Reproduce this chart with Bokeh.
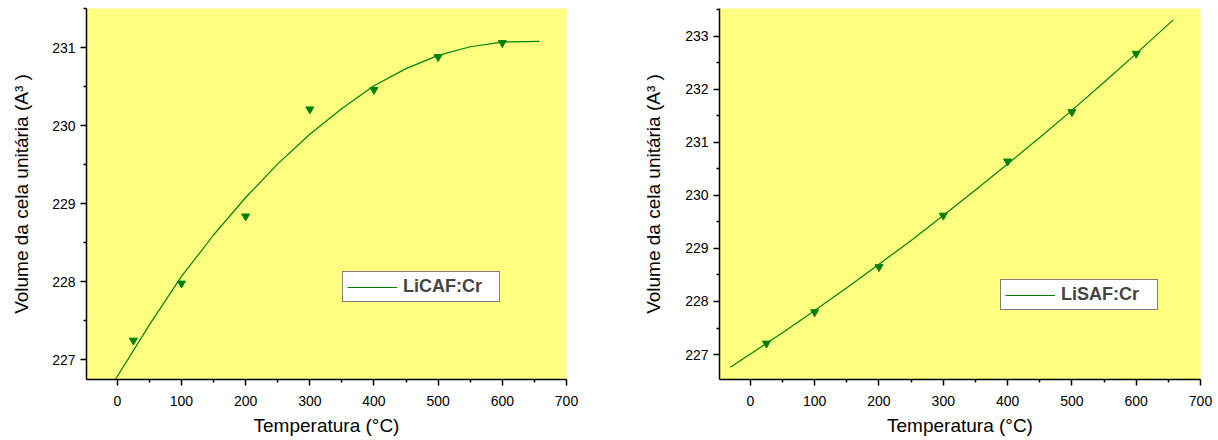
from bokeh.plotting import figure
from bokeh.layouts import row
from bokeh.models import Range1d, FixedTicker, Legend, LegendItem
from bokeh.embed import file_html
from bokeh.resources import INLINE

# ---- data ----
temperature = [25, 100, 200, 300, 400, 500, 600]
licaf_volume = [227.25, 227.98, 228.84, 230.21, 230.46, 230.88, 231.06]
lisaf_volume = [227.21, 227.80, 228.65, 229.62, 230.64, 231.57, 232.67]

licaf_fit_t = [-3, 50, 100, 150, 200, 250, 300, 350, 400, 450, 500, 550, 600, 658]
licaf_fit_v = [226.75, 227.45, 228.07, 228.60, 229.08, 229.51, 229.89, 230.22,
               230.51, 230.73, 230.90, 231.01, 231.07, 231.08]

lisaf_fit_t = [-31, 0, 50, 100, 150, 200, 250, 300, 350, 400, 450, 500, 550, 600, 658]
lisaf_fit_v = [226.76, 227.01, 227.41, 227.83, 228.26, 228.70, 229.15, 229.62,
               230.10, 230.59, 231.09, 231.60, 232.13, 232.67, 233.31]

x_ticks = [0, 100, 200, 300, 400, 500, 600, 700]
x_minor = [-50, 50, 150, 250, 350, 450, 550, 650]
licaf_y_ticks = [227, 228, 229, 230, 231]
licaf_y_minor = [226.5, 227.5, 228.5, 229.5, 230.5, 231.5]
lisaf_y_ticks = [227, 228, 229, 230, 231, 232, 233]
lisaf_y_minor = [226.5, 227.5, 228.5, 229.5, 230.5, 231.5, 232.5, 233.5]

x_label = "Temperatura (°C)"
y_label = "Volume da cela unitária (A³ )"

GREEN = "#008000"
YELLOW = "#FFFF80"
FONT = "Liberation Sans"


def make_panel(width, border_left, border_right, y_range, y_ticks, y_minor,
               fit_t, fit_v, pts_v, name, legend_loc, ylab_standoff):
    p = figure(width=width, height=440, output_backend="svg", toolbar_location=None,
               x_range=Range1d(-48, 700), y_range=y_range,
               min_border_left=border_left, min_border_right=border_right,
               min_border_top=8, min_border_bottom=61)
    p.background_fill_color = YELLOW
    p.border_fill_color = "white"
    p.outline_line_color = None
    p.grid.visible = False

    line_r = p.line(fit_t, fit_v, line_color=GREEN, line_width=1.2)
    p.scatter(temperature, pts_v, marker="inverted_triangle", size=8,
              fill_color=GREEN, line_color=GREEN)

    p.xaxis.ticker = FixedTicker(ticks=x_ticks, minor_ticks=x_minor)
    p.yaxis.ticker = FixedTicker(ticks=y_ticks, minor_ticks=y_minor)
    for ax in (p.xaxis[0], p.yaxis[0]):
        ax.axis_line_width = 1.5
        ax.axis_line_color = "black"
        ax.major_tick_line_width = 1.5
        ax.minor_tick_line_width = 1.5
        ax.major_tick_in = 0
        ax.minor_tick_in = 0
        ax.major_tick_out = 6
        ax.minor_tick_out = 3
        ax.major_label_text_font = FONT
        ax.major_label_text_font_size = "14px"
        ax.major_label_text_color = "black"
        ax.axis_label_text_font = FONT
        ax.axis_label_text_font_size = "19px"
        ax.axis_label_text_font_style = "normal"
        ax.axis_label_text_color = "black"
    p.xaxis.major_label_standoff = 10
    p.xaxis.axis_label_standoff = 6
    p.yaxis.major_label_standoff = 5
    p.yaxis.axis_label_standoff = ylab_standoff
    p.xaxis.axis_label = x_label
    p.yaxis.axis_label = y_label

    legend = Legend(items=[LegendItem(label=name, renderers=[line_r])],
                    location=legend_loc)
    legend.label_text_font = FONT
    legend.label_text_font_style = "bold"
    legend.label_text_font_size = "18px"
    legend.label_standoff = 6
    legend.glyph_width = 50
    legend.glyph_height = 16
    legend.label_height = 16
    legend.padding = 4
    legend.margin = 0
    legend.label_width = 92
    legend.border_line_color = "black"
    legend.border_line_width = 1.2
    legend.background_fill_color = "white"
    legend.background_fill_alpha = 1.0
    p.add_layout(legend)
    return p


p1 = make_panel(628, 86, 62, Range1d(226.75, 231.5), licaf_y_ticks, licaf_y_minor,
                licaf_fit_t, licaf_fit_v, licaf_volume, "LiCAF:Cr", (256, 77), 17)
p2 = make_panel(590, 91, 18, Range1d(226.53, 233.52), lisaf_y_ticks, lisaf_y_minor,
                lisaf_fit_t, lisaf_fit_v, lisaf_volume, "LiSAF:Cr", (281, 69), 18)

layout = row(p1, p2)
open("out.html", "w").write(file_html(layout, INLINE))
